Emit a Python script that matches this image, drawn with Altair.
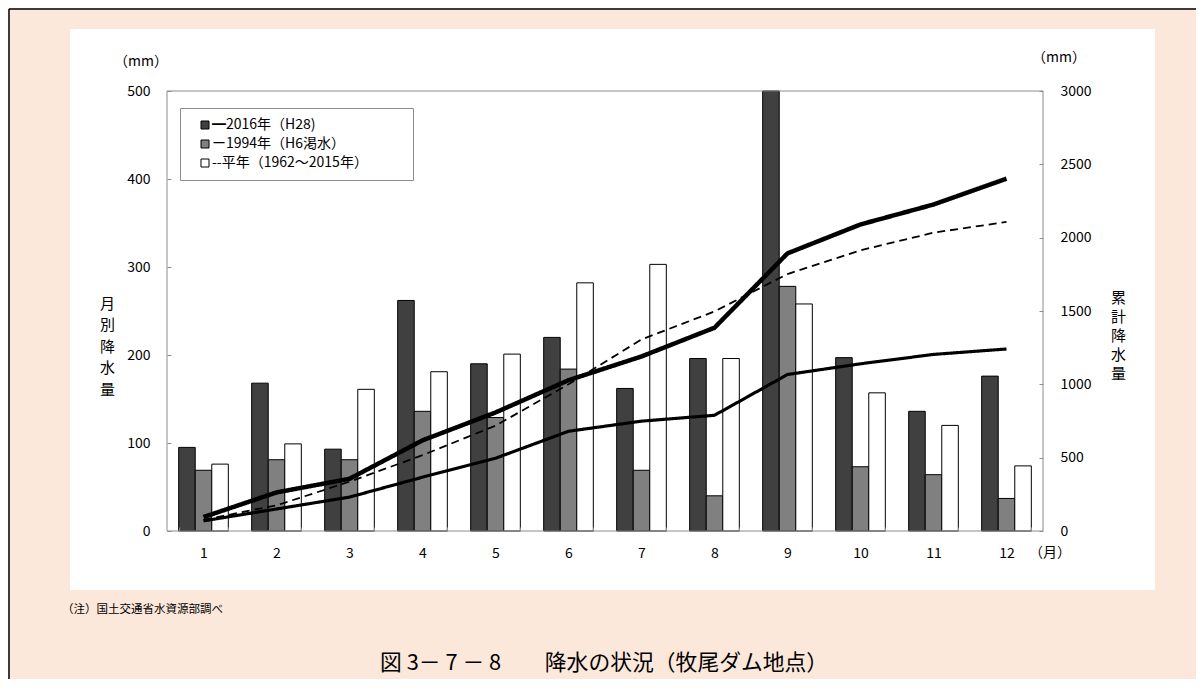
import altair as alt
import pandas as pd

FONT = "Noto Sans CJK JP"

# ---- data ----
months = [1, 2, 3, 4, 5, 6, 7, 8, 9, 10, 11, 12]
series_names = ["━2016年（H28)", "ー1994年（H6渇水）", "--平年（1962～2015年）"]
line_names = ["2016年", "1994年", "平年"]
rain_2016 = [95, 168, 93, 262, 190, 220, 162, 196, 507, 197, 136, 176]
rain_1994 = [69, 81, 81, 136, 129, 184, 69, 40, 278, 73, 64, 37]
rain_normal = [76, 99, 161, 181, 201, 282, 303, 196, 258, 157, 120, 74]
cum_2016 = [95, 263, 356, 618, 808, 1028, 1190, 1386, 1893, 2090, 2226, 2402]
cum_1994 = [69, 150, 231, 367, 496, 680, 749, 789, 1067, 1140, 1204, 1241]
cum_normal = [76, 175, 336, 517, 718, 1000, 1306, 1497, 1752, 1914, 2034, 2107]
bar_colors = ["#404040", "#808080", "#ffffff"]
left_ticks = [0, 100, 200, 300, 400, 500]
right_ticks = [0, 500, 1000, 1500, 2000, 2500, 3000]

W, H = 876, 440

rows_bar, rows_line = [], []
for name, lname, monthly, cum in zip(series_names, line_names,
                                     [rain_2016, rain_1994, rain_normal],
                                     [cum_2016, cum_1994, cum_normal]):
    for m, v, c in zip(months, monthly, cum):
        rows_bar.append({"month": m, "series": name, "value": v})
        rows_line.append({"month": m, "line": lname, "cum": c})
df_bar = pd.DataFrame(rows_bar)
df_line = pd.DataFrame(rows_line)

xscale = alt.Scale(paddingInner=0.32, paddingOuter=0.16)
xaxis = alt.Axis(title=None, labelAngle=0, labelFont=FONT, labelFontSize=14,
                 labelColor="#000", domain=False, grid=False, tickBand="extent",
                 tickSize=4, tickColor="#8c8c8c", offset=-4, labelPadding=15, zindex=1)


def blank():
    return alt.Chart(alt.Data(values=[{}]))


def txt(s, x, y, size=14, align="center", baseline="middle", **kw):
    return blank().mark_text(text=s, font=FONT, fontSize=size, align=align,
                             baseline=baseline, color="#000", **kw).encode(
        x=alt.value(x), y=alt.value(y))


white_box = blank().mark_rect(fill="white").encode(
    x=alt.value(-97), x2=alt.value(988), y=alt.value(-62), y2=alt.value(499))

bars = alt.Chart(df_bar).mark_bar(stroke="black", strokeWidth=1).encode(
    x=alt.X("month:O", scale=xscale, axis=xaxis),
    xOffset=alt.XOffset("series:N", sort=series_names,
                        scale=alt.Scale(paddingInner=0, paddingOuter=0)),
    y=alt.Y("value:Q", scale=alt.Scale(domain=[0, 500], nice=False, clamp=True),
            axis=alt.Axis(values=left_ticks, title=["月", "別", "降", "水", "量"],
                          titleAngle=0, titleFont=FONT, titleFontSize=15,
                          titleFontWeight="normal", titleColor="#000",
                          titleLineHeight=21.5, titleAlign="center",
                          titleBaseline="middle", titleX=-64, titleY=212,
                          labelFont=FONT, labelFontSize=14, labelColor="#000",
                          domain=False, grid=False, tickSize=4,
                          tickColor="#8c8c8c", offset=-4, labelPadding=17,
                          zindex=1)),
    fill=alt.Fill("series:N",
                  scale=alt.Scale(domain=series_names, range=bar_colors),
                  legend=alt.Legend(title=None, orient="none", legendX=13,
                                    legendY=17, symbolType="square",
                                    symbolSize=64, symbolStrokeColor="black",
                                    symbolStrokeWidth=1, symbolOffset=8,
                                    labelFont=FONT, labelFontSize=14,
                                    labelColor="#000", labelOffset=0,
                                    labelExpr="datum.label + '\u3000\u3000\u3000\u200b'",
                                    labelLimit=400, padding=10, rowPadding=5,
                                    fillColor="white", strokeColor="#8c8c8c",
                                    zindex=1)),
)

lines = alt.Chart(df_line).mark_line(color="black").encode(
    x=alt.X("month:O", scale=xscale, axis=xaxis),
    y=alt.Y("cum:Q", scale=alt.Scale(domain=[0, 3000], nice=False),
            axis=alt.Axis(orient="right", values=right_ticks, format="d",
                          title=["累", "計", "降", "水", "量"], titleAngle=0,
                          titleFont=FONT, titleFontSize=15,
                          titleFontWeight="normal", titleColor="#000",
                          titleLineHeight=19, titleAlign="center",
                          titleBaseline="middle", titleX=79, titleY=206,
                          labelFont=FONT, labelFontSize=14, labelColor="#000",
                          domain=False, grid=False, tickSize=4,
                          tickColor="#8c8c8c", offset=-4, labelPadding=17,
                          zindex=1)),
    detail="line:N",
    strokeWidth=alt.StrokeWidth("line:N",
                                scale=alt.Scale(domain=line_names, range=[4.5, 1.8, 1.8]),
                                legend=None),
    strokeDash=alt.StrokeDash("line:N",
                              scale=alt.Scale(domain=line_names,
                                              range=[[1, 0], [1, 0], [8, 5]]),
                              legend=None),
)

frame = blank().mark_rect(fillOpacity=0, stroke="#8c8c8c", strokeWidth=1).encode(
    x=alt.value(0), x2=alt.value(W), y=alt.value(0), y2=alt.value(H))

border_left = blank().mark_rule(color="black", strokeWidth=1.5).encode(
    x=alt.value(-158), y=alt.value(-82), y2=alt.value(H + 170))
border_top = blank().mark_rule(color="black", strokeWidth=1.5).encode(
    x=alt.value(-158), x2=alt.value(W + 170), y=alt.value(-82))

texts = [
    txt("（mm）", -26, -29),
    txt("（mm）", 892, -33),
    txt("（月）", 883, 462),
    txt("（注）国土交通省水資源部調べ", -105, 519, size=11.5, align="left"),
    txt("図 3－ 7 － 8　　降水の状況（牧尾ダム地点）", 213, 572, size=21.8, align="left"),
]

left_part = alt.layer(white_box, bars)
chart = alt.layer(left_part, lines, frame, border_left, border_top, *texts).resolve_scale(
    y="independent"
).properties(
    width=W, height=H,
    autosize=alt.AutoSizeParams(type="none"),
    padding={"left": 159, "top": 83, "right": 153, "bottom": 148},
    background="#FCE8DB",
).configure_view(stroke=None)

chart.save("out.html", embed_options={"renderer": "svg", "actions": False})
